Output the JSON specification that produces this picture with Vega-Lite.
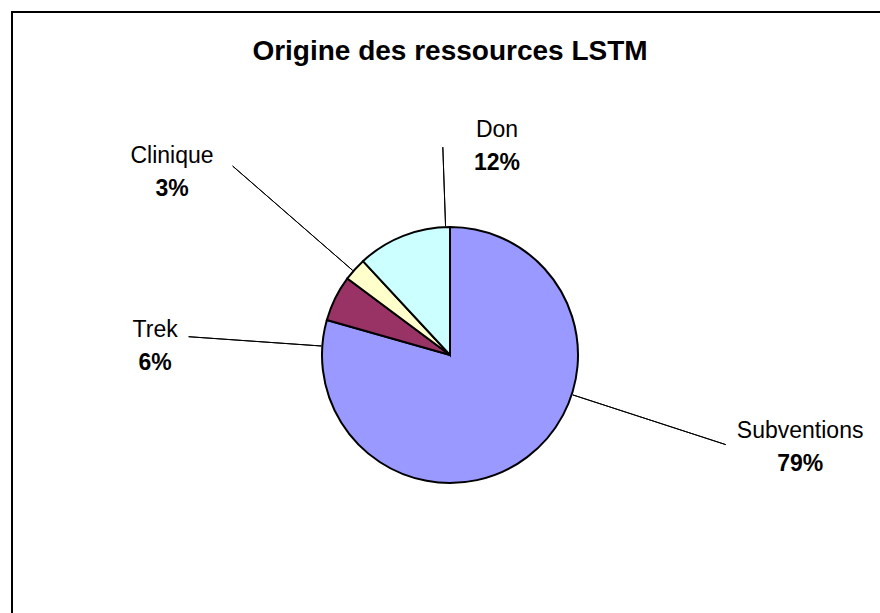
{
  "$schema": "https://vega.github.io/schema/vega-lite/v6.json",
  "autosize": {"type": "none"},
  "padding": {"left": 12, "top": 12, "right": 0, "bottom": 0},
  "width": 876,
  "height": 686,
  "background": "white",
  "view": {"stroke": "black", "strokeWidth": 2, "fill": "white"},
  "config": {
    "view": {"stroke": "black", "strokeWidth": 2},
    "text": {"font": "Liberation Sans", "fontSize": 23, "color": "black"}
  },
  "title": {
    "text": "Origine des ressources LSTM",
    "font": "Liberation Sans",
    "fontSize": 28,
    "fontWeight": "bold",
    "color": "black",
    "anchor": "middle",
    "frame": "group",
    "baseline": "alphabetic",
    "offset": -76
  },
  "data": {
    "values": [
      {"cat": "Subventions", "value": 79.4, "pct": "79%"},
      {"cat": "Trek", "value": 5.8, "pct": "6%"},
      {"cat": "Clinique", "value": 2.9, "pct": "3%"},
      {"cat": "Don", "value": 11.9, "pct": "12%"}
    ]
  },
  "transform": [{"stack": "value", "groupby": [], "as": ["v0", "v1"]}],
  "layer": [
    {
      "mark": {"type": "arc", "radius": 128, "stroke": "black", "strokeWidth": 2},
      "encoding": {
        "theta": {"field": "v0", "type": "quantitative", "stack": null, "scale": {"domain": [0, 100]}},
        "theta2": {"field": "v1"},
        "color": {
          "field": "cat", "type": "nominal", "legend": null,
          "scale": {"domain": ["Subventions", "Trek", "Clinique", "Don"], "range": ["#9999FF", "#993366", "#FFFFCC", "#CCFFFF"]}
        }
      }
    },
    {
      "transform": [{"filter": "datum.cat === 'Subventions'"}],
      "layer": [
        {
          "mark": {"type": "arc", "filled": false, "stroke": "black", "strokeWidth": 1, "radius": 290, "radius2": 129, "thetaOffset": 1.885, "theta2Offset": 1.885},
          "encoding": {
            "theta": {"field": "v0", "type": "quantitative", "stack": null, "scale": {"domain": [0, 100]}},
            "theta2": {"field": "v0"}
          }
        },
        {
          "mark": {"type": "text", "radius": 362, "thetaOffset": 1.8274, "dy": -16},
          "encoding": {
            "theta": {"field": "v0", "type": "quantitative", "stack": null, "scale": {"domain": [0, 100]}},
            "text": {"field": "cat"}
          }
        },
        {
          "mark": {"type": "text", "radius": 362, "thetaOffset": 1.8274, "dy": 17, "fontWeight": "bold"},
          "encoding": {
            "theta": {"field": "v0", "type": "quantitative", "stack": null, "scale": {"domain": [0, 100]}},
            "text": {"field": "pct"}
          }
        }
      ]
    },
    {
      "transform": [{"filter": "datum.cat === 'Trek'"}],
      "layer": [
        {
          "mark": {"type": "arc", "filled": false, "stroke": "black", "strokeWidth": 1, "radius": 262, "radius2": 129, "thetaOffset": -0.2066, "theta2Offset": -0.2066},
          "encoding": {
            "theta": {"field": "v0", "type": "quantitative", "stack": null, "scale": {"domain": [0, 100]}},
            "theta2": {"field": "v0"}
          }
        },
        {
          "mark": {"type": "text", "radius": 295, "thetaOffset": -0.2468, "dy": -16},
          "encoding": {
            "theta": {"field": "v0", "type": "quantitative", "stack": null, "scale": {"domain": [0, 100]}},
            "text": {"field": "cat"}
          }
        },
        {
          "mark": {"type": "text", "radius": 295, "thetaOffset": -0.2468, "dy": 17, "fontWeight": "bold"},
          "encoding": {
            "theta": {"field": "v0", "type": "quantitative", "stack": null, "scale": {"domain": [0, 100]}},
            "text": {"field": "pct"}
          }
        }
      ]
    },
    {
      "transform": [{"filter": "datum.cat === 'Clinique'"}],
      "layer": [
        {
          "mark": {"type": "arc", "filled": false, "stroke": "black", "strokeWidth": 1, "radius": 288, "radius2": 129, "thetaOffset": 0.0747, "theta2Offset": 0.0747},
          "encoding": {
            "theta": {"field": "v0", "type": "quantitative", "stack": null, "scale": {"domain": [0, 100]}},
            "theta2": {"field": "v0"}
          }
        },
        {
          "mark": {"type": "text", "radius": 333, "thetaOffset": -0.0579, "dy": -16},
          "encoding": {
            "theta": {"field": "v0", "type": "quantitative", "stack": null, "scale": {"domain": [0, 100]}},
            "text": {"field": "cat"}
          }
        },
        {
          "mark": {"type": "text", "radius": 333, "thetaOffset": -0.0579, "dy": 17, "fontWeight": "bold"},
          "encoding": {
            "theta": {"field": "v0", "type": "quantitative", "stack": null, "scale": {"domain": [0, 100]}},
            "text": {"field": "pct"}
          }
        }
      ]
    },
    {
      "transform": [{"filter": "datum.cat === 'Don'"}],
      "layer": [
        {
          "mark": {"type": "arc", "filled": false, "stroke": "black", "strokeWidth": 1, "radius": 208, "radius2": 129, "thetaOffset": 0.7132, "theta2Offset": 0.7132},
          "encoding": {
            "theta": {"field": "v0", "type": "quantitative", "stack": null, "scale": {"domain": [0, 100]}},
            "theta2": {"field": "v0"}
          }
        },
        {
          "mark": {"type": "text", "radius": 214, "thetaOffset": 0.9693, "dy": -16},
          "encoding": {
            "theta": {"field": "v0", "type": "quantitative", "stack": null, "scale": {"domain": [0, 100]}},
            "text": {"field": "cat"}
          }
        },
        {
          "mark": {"type": "text", "radius": 214, "thetaOffset": 0.9693, "dy": 17, "fontWeight": "bold"},
          "encoding": {
            "theta": {"field": "v0", "type": "quantitative", "stack": null, "scale": {"domain": [0, 100]}},
            "text": {"field": "pct"}
          }
        }
      ]
    }
  ]
}
